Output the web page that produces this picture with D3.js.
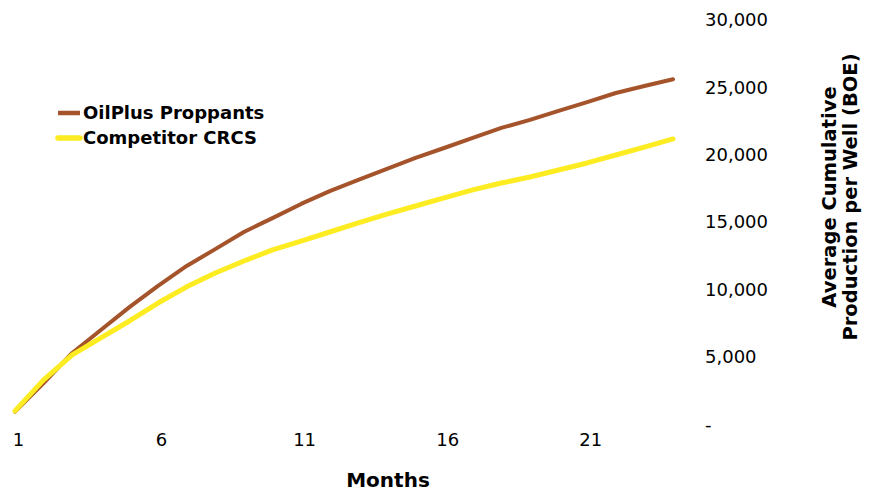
<!DOCTYPE html>
<html>
<head>
<meta charset="utf-8">
<script src="https://cdn.jsdelivr.net/npm/d3@7"></script>
<style>
  html, body { margin: 0; padding: 0; background: #fff; }
  svg { display: block; }
  text { font-family: "DejaVu Sans", "Liberation Sans", Arial, sans-serif; fill: #000; }
</style>
</head>
<body>
<svg id="chart" width="871" height="491"></svg>
<script>
// ---- Data ----
const months = d3.range(1, 25);
const oilPlus = [950, 3070, 5300, 7000, 8700, 10270, 11750, 13000, 14270, 15300, 16350, 17300,
                 18130, 18950, 19770, 20500, 21250, 21990, 22580, 23250, 23900, 24580, 25100, 25600];
const competitor = [1000, 3300, 5150, 6420, 7670, 9000, 10200, 11230, 12120, 12940, 13600, 14270,
                    14940, 15600, 16200, 16800, 17390, 17900, 18350, 18870, 19390, 19980, 20570, 21170];
const seriesNames = ["OilPlus Proppants", "Competitor CRCS"];
const seriesColors = ["#A5532A", "#FCEC21"];
const xTickValues = [1, 6, 11, 16, 21];
const yTickValues = [0, 5000, 10000, 15000, 20000, 25000, 30000];
const xTitle = "Months";
const yTitleLines = ["Average Cumulative", "Production per Well (BOE)"];

// ---- Layout ----
const svg = d3.select("#chart");
const x = d3.scaleLinear().domain([1, 24]).range([15, 673]);
const y = d3.scaleLinear().domain([0, 30000]).range([424.4, 19.9]);

// Y axis (right side, labels only)
const yFmt = v => v === 0 ? "-" : d3.format(",")(v);
const yAxis = d3.axisRight(y).tickValues(yTickValues).tickFormat(yFmt).tickSize(0).tickPadding(0);
const gy = svg.append("g").attr("transform", "translate(705,0)").call(yAxis);
gy.select(".domain").remove();
gy.selectAll("text").attr("x", 0).attr("text-anchor", "start")
  .style("font-size", "18px").style("font-family", "\"DejaVu Sans\", sans-serif").attr("fill", "#111");

// X axis (labels only)
const xAxis = d3.axisBottom(x).tickValues(xTickValues).tickFormat(d3.format("d")).tickSize(0).tickPadding(0);
const gx = svg.append("g").attr("transform", "translate(3,433)").call(xAxis);
gx.select(".domain").remove();
gx.selectAll("text").style("font-size", "18px").style("font-family", "\"DejaVu Sans\", sans-serif").attr("fill", "#111");

// Axis titles
svg.append("text").attr("x", 388).attr("y", 487).attr("text-anchor", "middle")
  .style("font-size", "20px").style("font-weight", "bold").text(xTitle);

const yTitleX = [836, 857];
yTitleLines.forEach((t, i) => {
  svg.append("text")
    .attr("transform", `translate(${yTitleX[i]},197) rotate(-90)`)
    .attr("text-anchor", "middle")
    .style("font-size", "19.5px").style("font-weight", "bold").text(t);
});

// Lines
const series = [oilPlus, competitor];
const widths = [4, 5];
const line = d3.line().x((d, i) => x(months[i])).y(d => y(d)).curve(d3.curveLinear);
// draw competitor first? reference: yellow on top at start
[0, 1].forEach(k => {
  svg.append("path").datum(series[k])
    .attr("d", line)
    .attr("fill", "none")
    .attr("stroke", seriesColors[k])
    .attr("stroke-width", widths[k])
    .attr("stroke-linejoin", "round")
    .attr("stroke-linecap", "round");
});

// Legend
const legendY = [113, 138];
seriesNames.forEach((name, i) => {
  svg.append("line").attr("x1", 58).attr("x2", 80).attr("y1", legendY[i]).attr("y2", legendY[i])
    .attr("stroke", seriesColors[i]).attr("stroke-width", widths[i] + 0.5)
    .attr("stroke-linecap", i === 1 ? "round" : "butt");
  svg.append("text").attr("x", 83).attr("y", legendY[i]).attr("dy", "0.36em")
    .style("font-size", "18px").style("font-weight", "bold").text(name);
});
</script>
</body>
</html>
